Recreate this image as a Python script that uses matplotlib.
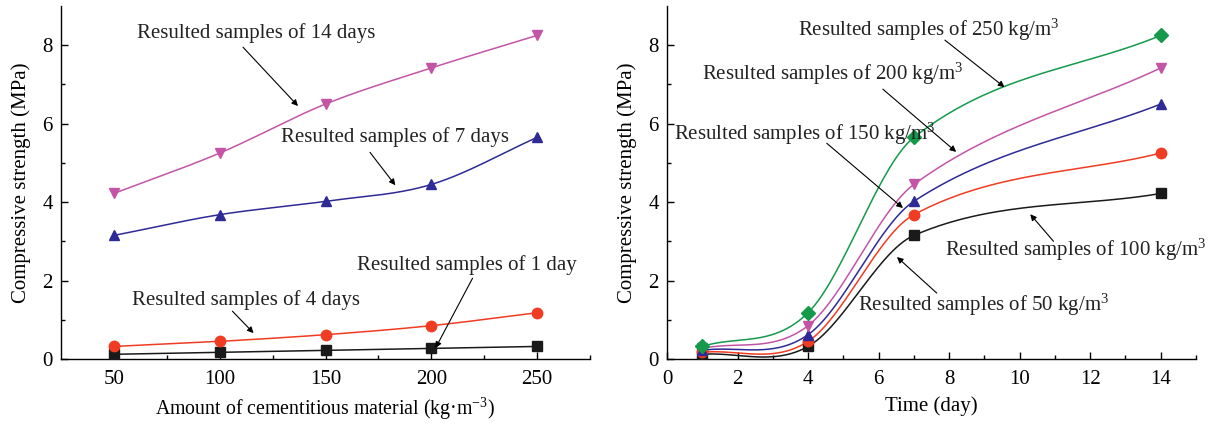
import numpy as np
import matplotlib
matplotlib.use("Agg")
import matplotlib.pyplot as plt

plt.rcParams["font.family"] = ["Liberation Serif", "DejaVu Serif"]
plt.rcParams["mathtext.fontset"] = "custom"
plt.rcParams["mathtext.rm"] = "Liberation Serif"
plt.rcParams["mathtext.it"] = "Liberation Serif:italic"

# ---------------------------------------------------------------------------
# Data
# ---------------------------------------------------------------------------
amount = [50, 100, 150, 200, 250]          # kg/m3
days = [1, 4, 7, 14]

day1 = [0.12, 0.17, 0.22, 0.27, 0.32]
day4 = [0.32, 0.45, 0.62, 0.85, 1.18]
day7 = [3.15, 3.68, 4.02, 4.45, 5.65]
day14 = [4.22, 5.25, 6.50, 7.42, 8.25]

kg50 = [0.12, 0.32, 3.15, 4.22]
kg100 = [0.17, 0.45, 3.68, 5.25]
kg150 = [0.22, 0.62, 4.02, 6.50]
kg200 = [0.27, 0.85, 4.45, 7.42]
kg250 = [0.32, 1.18, 5.65, 8.25]

BLACK = "#1a1a1a"
RED = "#f03c22"
BLUE = "#2e2a96"
MAGENTA = "#c455a6"
GREEN = "#15994a"


def spline_line(x, y, n=60):
    """Cardinal (Catmull-Rom style) Hermite curve through the points,
    only used to draw the connecting line."""
    x = np.asarray(x, float)
    y = np.asarray(y, float)
    m = np.empty_like(y)
    m[1:-1] = (y[2:] - y[:-2]) / (x[2:] - x[:-2])
    m[0] = (y[1] - y[0]) / (x[1] - x[0])
    m[-1] = (y[-1] - y[-2]) / (x[-1] - x[-2])
    xs_all, ys_all = [], []
    for i in range(len(x) - 1):
        h = x[i + 1] - x[i]
        t = np.linspace(0, 1, n)
        h00 = 2 * t**3 - 3 * t**2 + 1
        h10 = t**3 - 2 * t**2 + t
        h01 = -2 * t**3 + 3 * t**2
        h11 = t**3 - t**2
        xs_all.append(x[i] + t * h)
        ys_all.append(h00 * y[i] + h10 * h * m[i] + h01 * y[i + 1] + h11 * h * m[i + 1])
    return np.concatenate(xs_all), np.concatenate(ys_all)


def plot_series(ax, x, y, color, marker):
    xs, ys = spline_line(x, y)
    ax.plot(xs, ys, color=color, lw=1.1, zorder=2)
    ax.plot(x, y, ls="none", marker=marker, color=color, ms=7.5, zorder=3)


def note(ax, text, xy_text, tail, head):
    ax.text(xy_text[0], xy_text[1], text, fontsize=15, ha="left", va="center",
            color="#222222")
    ax.annotate("", xy=head, xytext=tail,
                arrowprops=dict(arrowstyle="-|>", color="black", lw=0.8,
                                mutation_scale=9, shrinkA=0, shrinkB=0))


def style(ax):
    for s in ("top", "right"):
        ax.spines[s].set_visible(False)
    for s in ("left", "bottom"):
        ax.spines[s].set_linewidth(1.0)
    ax.tick_params(which="both", direction="in", labelsize=15, width=1.0)
    ax.tick_params(axis="x", which="major", pad=8)
    ax.tick_params(axis="y", which="major", pad=6)
    ax.tick_params(which="major", length=5)
    ax.tick_params(which="minor", length=3)
    ax.set_ylim(0, 9)
    ax.set_yticks([0, 2, 4, 6, 8])
    ax.set_yticks([1, 3, 5, 7], minor=True)
    ax.set_ylabel("Compressive strength (MPa)", fontsize=15, labelpad=8)


fig = plt.figure(figsize=(12.14, 4.25), dpi=100)
H = 425.0
W = 1214.0
ax1 = fig.add_axes([61 / W, 66 / H, 529 / W, 353 / H])
ax2 = fig.add_axes([667 / W, 66 / H, 529 / W, 353 / H])

# ---- left panel ----
plot_series(ax1, amount, day1, BLACK, "s")
plot_series(ax1, amount, day4, RED, "o")
plot_series(ax1, amount, day7, BLUE, "^")
plot_series(ax1, amount, day14, MAGENTA, "v")
style(ax1)
ax1.set_xlim(25, 275)
ax1.set_xticks([50, 100, 150, 200, 250])
ax1.set_xticks([75, 125, 175, 225, 275], minor=True)
ax1.set_xlabel("Amount of cementitious material (kg·m$^{-3}$)", fontsize=14.3, labelpad=5)

note(ax1, "Resulted samples of 14 days", (61, 8.3), (111, 7.95), (137, 6.45))
note(ax1, "Resulted samples of 7 days", (129, 5.65), (171, 5.27), (183, 4.43))
note(ax1, "Resulted samples of 4 days", (58.6, 1.5), (106, 1.22), (116, 0.66))
note(ax1, "Resulted samples of 1 day", (164.8, 2.4), (219.5, 2.06), (202, 0.28))

# ---- right panel ----
plot_series(ax2, days, kg50, BLACK, "s")
plot_series(ax2, days, kg100, RED, "o")
plot_series(ax2, days, kg150, BLUE, "^")
plot_series(ax2, days, kg200, MAGENTA, "v")
plot_series(ax2, days, kg250, GREEN, "D")
style(ax2)
ax2.set_xlim(0, 15)
ax2.set_xticks([0, 2, 4, 6, 8, 10, 12, 14])
ax2.set_xticks([1, 3, 5, 7, 9, 11, 13, 15], minor=True)
ax2.set_xlabel("Time (day)", fontsize=15, labelpad=5)

note(ax2, "Resulted samples of 250 kg/m$^3$", (3.71, 8.4), (7.88, 8.13), (9.57, 6.93))
note(ax2, "Resulted samples of 200 kg/m$^3$", (0.99, 7.26), (6.12, 6.88), (8.2, 5.28))
note(ax2, "Resulted samples of 150 kg/m$^3$", (0.2, 5.75), (4.53, 5.5), (6.69, 3.85))
note(ax2, "Resulted samples of 100 kg/m$^3$", (7.88, 2.78), (10.96, 3.0), (10.3, 3.69))
note(ax2, "Resulted samples of 50 kg/m$^3$", (5.41, 1.38), (7.65, 1.68), (6.52, 2.6))

fig.savefig("out.png", dpi=100)
